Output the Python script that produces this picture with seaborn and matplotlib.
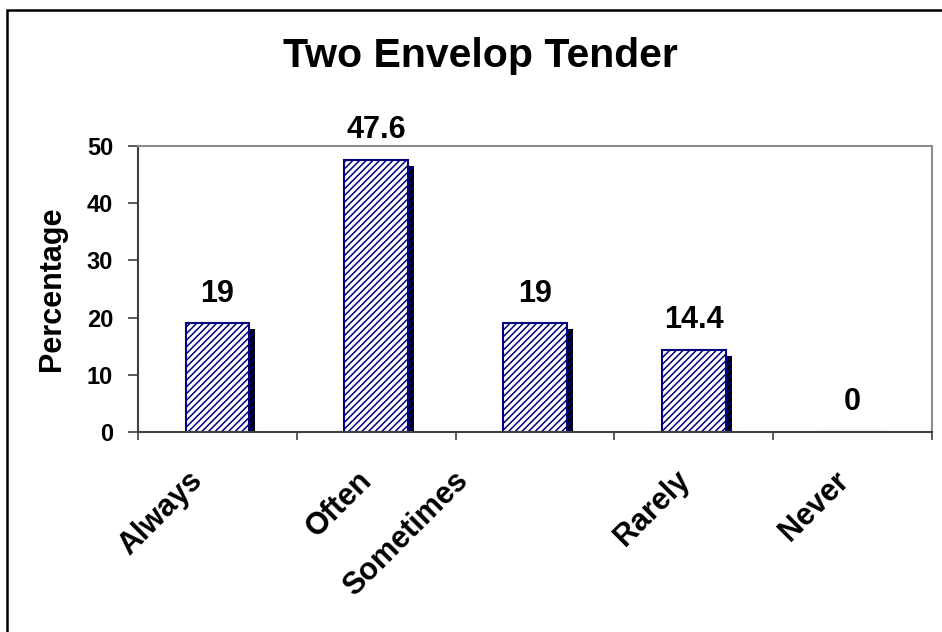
import matplotlib
matplotlib.use("Agg")
import matplotlib.pyplot as plt
import matplotlib.patheffects as pe
from matplotlib.transforms import ScaledTranslation
from matplotlib.patches import Rectangle
import seaborn as sns

categories = ["Always", "Often", "Sometimes", "Rarely", "Never"]
values = [19, 47.6, 19, 14.4, 0]
value_labels = ["19", "47.6", "19", "14.4", "0"]
yticks = [0, 10, 20, 30, 40, 50]
title = "Two Envelop Tender"
ylabel = "Percentage"

sns.set_theme(style="white")
plt.rcParams["font.family"] = ["Liberation Sans", "DejaVu Sans"]
plt.rcParams["font.weight"] = "bold"
plt.rcParams["text.color"] = "black"
plt.rcParams["axes.labelcolor"] = "black"
plt.rcParams["xtick.color"] = "black"
plt.rcParams["ytick.color"] = "black"
plt.rcParams["hatch.linewidth"] = 1.1

W, H = 942, 632
fig = plt.figure(figsize=(W / 100, H / 100), dpi=100)
fig.patch.set_facecolor("white")
ax = fig.add_axes([138 / W, 1 - 432 / H, (932 - 138) / W, (432 - 146) / H])

navy = "#000080"
sns.barplot(x=categories, y=values, ax=ax, color="white", width=0.4,
            edgecolor=navy, linewidth=1.5, hatch="/////", saturation=1)
for bar in ax.patches:
    bar.set_hatch("/////")
    bar.set_edgecolor(navy)
    bar.set_facecolor("white")
    bar.set_path_effects([pe.SimplePatchShadow(offset=(4.3, -4.3), shadow_rgbFace="black",
                                               alpha=1.0), pe.Normal()])

ax.set_xlim(-0.5, len(categories) - 0.5)
ax.set_ylim(0, 50)
ax.set_yticks(yticks)
ax.set_yticklabels([str(t) for t in yticks], fontsize=17, fontweight="bold", color="black")

ax.set_xticks(range(len(categories)))
ax.set_xticklabels(categories, rotation=45, ha="right", va="top",
                   rotation_mode="anchor", fontsize=22, fontweight="bold", color="black")
ax.set_xticks([i - 0.5 for i in range(len(categories) + 1)], minor=True)
ax.tick_params(axis="x", which="major", length=0, pad=24)
ax.tick_params(axis="x", which="minor", length=6, width=1.2, color="#404040",
               direction="out", bottom=True)
ax.tick_params(axis="y", which="major", length=7, width=1.2, color="#404040",
               direction="out", left=True, pad=11)
label_shift_px = [-30, -19, -82, -19, -19]
for lab, dx in zip(ax.get_xticklabels(), label_shift_px):
    lab.set_transform(lab.get_transform() + ScaledTranslation(dx / 100, 0, fig.dpi_scale_trans))

for i, (v, t) in enumerate(zip(values, value_labels)):
    ax.annotate(t, (i, v), xytext=(0, 15.5), textcoords="offset points",
                ha="center", va="baseline", fontsize=22, fontweight="bold",
                color="black", annotation_clip=False)

ax.set_ylabel(ylabel, fontsize=22, fontweight="bold", labelpad=14, color="black")
ax.set_xlabel("")

for side in ["left", "bottom"]:
    ax.spines[side].set_color("#404040")
    ax.spines[side].set_linewidth(1.5)
for side in ["top", "right"]:
    ax.spines[side].set_color("#8c8c8c")
    ax.spines[side].set_linewidth(1.5)
ax.set_facecolor("white")

fig.text(480 / W, 1 - 67 / H, title, ha="center", va="baseline",
         fontsize=29.5, fontweight="bold", color="black")

fig.patches.append(Rectangle((7 / W, -0.2), 1.5, 1.2 - 10 / H, transform=fig.transFigure,
                             fill=False, edgecolor="black", linewidth=1.8))

fig.savefig("out.png", dpi=100, facecolor="white")
